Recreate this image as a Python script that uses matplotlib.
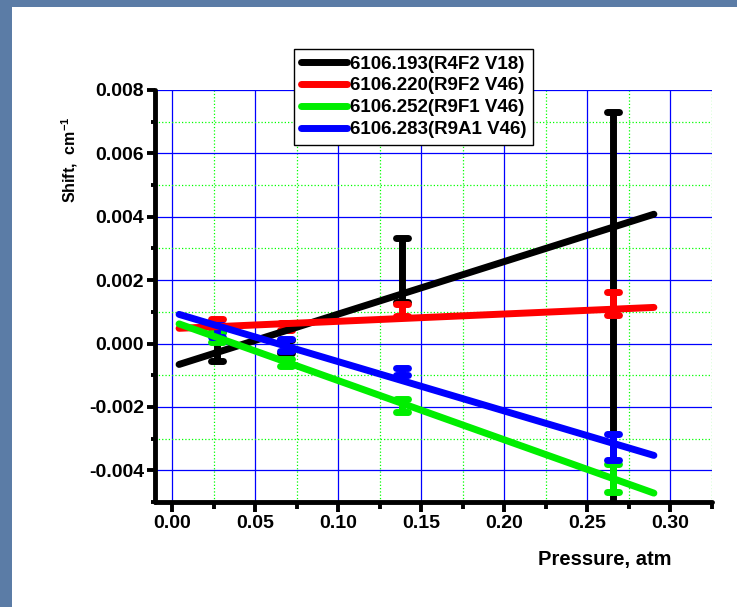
import numpy as np
import matplotlib
matplotlib.use("Agg")
import matplotlib.pyplot as plt
from matplotlib.patches import Rectangle
from matplotlib.markers import MarkerStyle
from matplotlib.ticker import MultipleLocator, FormatStrFormatter

plt.rcParams['font.family'] = ['Liberation Sans', 'DejaVu Sans']
plt.rcParams['font.weight'] = 'bold'
plt.rcParams['mathtext.fontset'] = 'custom'
plt.rcParams['mathtext.rm'] = 'Liberation Sans'
plt.rcParams['mathtext.bf'] = 'Liberation Sans:bold'

# pressures (atm)
pressure = [0.0269, 0.0687, 0.138, 0.2653]

# shifts (cm-1) and errors for each line
labels = ['6106.193(R4F2 V18)', '6106.220(R9F2 V46)',
          '6106.252(R9F1 V46)', '6106.283(R9A1 V46)']
colors = ['#000000', '#ff0000', '#00ee00', '#0000ff']

black_y = [-0.0001, -0.0001, 0.00232, 0.0003]
black_err = [0.00045, 0.0002, 0.00102, 0.0070]
red_y = [0.00066, 0.00054, 0.00107, 0.00126]
red_err = [0.00012, 0.00012, 0.00019, 0.00036]
green_y = [0.0002, -0.0006, -0.00195, -0.00424]
green_err = [0.00015, 0.0001, 0.0002, 0.00045]
blue_y = [0.0004, -0.00005, -0.00088, -0.00326]
blue_err = [0.0002, 0.0002, 0.00012, 0.00041]

# linear fit lines (end points)
fit_x = [0.004, 0.29]
black_fit = [-0.00066, 0.00408]
red_fit = [0.00048, 0.00114]
green_fit = [0.00062, -0.00472]
blue_fit = [0.00092, -0.00353]

series = [
    (black_y, black_err, black_fit),
    (red_y, red_err, red_fit),
    (green_y, green_err, green_fit),
    (blue_y, blue_err, blue_fit),
]

W, H = 737, 607
fig = plt.figure(figsize=(W / 100, H / 100), dpi=100)
fig.patch.set_facecolor('#5b7ca6')
fig.patches.append(Rectangle((12 / W, 0), 1, 1 - 7 / H, transform=fig.transFigure,
                             facecolor='white', edgecolor='none', zorder=-10))

ax = fig.add_axes([155 / W, 1 - 502 / H, (712 - 155) / W, (502 - 90) / H])
ax.set_facecolor('none')

for (y, err, fit), c, lab in zip(series, colors, labels):
    eb = ax.errorbar(pressure, y, yerr=err, fmt='none', ecolor=c,
                     elinewidth=5, capsize=5, capthick=5, zorder=3)
    for cap in eb[1]:
        cap.set_marker(MarkerStyle('_', capstyle='round'))
        cap.set_markersize(8)
        cap.set_markeredgewidth(5)
        cap.set_markeredgecolor(c)
    ax.plot(fit_x, fit, color=c, lw=5, solid_capstyle='round',
            label=lab, zorder=4)

ax.set_xlim(-0.0105, 0.325)
ax.set_ylim(-0.005, 0.008)
ax.xaxis.set_major_locator(MultipleLocator(0.05))
ax.xaxis.set_minor_locator(MultipleLocator(0.025))
ax.yaxis.set_major_locator(MultipleLocator(0.002))
ax.yaxis.set_minor_locator(MultipleLocator(0.001))
ax.xaxis.set_major_formatter(FormatStrFormatter('%.2f'))
ax.yaxis.set_major_formatter(FormatStrFormatter('%.3f'))

ax.set_axisbelow(True)
ax.grid(which='major', color='#0000ff', lw=0.9)
ax.grid(which='minor', color='#00ff00', lw=0.9, ls=':')

for side in ['top', 'right']:
    ax.spines[side].set_visible(False)
for side in ['left', 'bottom']:
    ax.spines[side].set_linewidth(3.5)
    ax.spines[side].set_capstyle('round')

ax.tick_params(which='major', direction='out', length=6, width=2.8,
               labelsize=14, pad=2)
ax.tick_params(which='minor', direction='out', length=3, width=2.8)
ax.tick_params(axis='x', which='major', length=7)
ax.tick_params(axis='x', which='minor', length=5)
for t in ax.get_xticklabels() + ax.get_yticklabels():
    t.set_fontweight('bold')

leg = ax.legend(loc='upper left', bbox_to_anchor=(294 / W, 1 - 49 / H),
                bbox_transform=fig.transFigure, fancybox=False,
                edgecolor='black', framealpha=1, handlelength=2.5,
                handletextpad=0.15, borderpad=0.35, labelspacing=0.25,
                borderaxespad=0, prop={'weight': 'bold', 'size': 13.5})
leg.get_frame().set_linewidth(1)
leg.set_zorder(10)

fig.text(70 / W, 1 - 160 / H, r'$\mathbf{Shift,\ cm^{-1}}$', rotation=90,
         ha='center', va='center', fontsize=11.5)
fig.text(605 / W, 1 - 559 / H, 'Pressure, atm', ha='center', va='center',
         fontsize=14.5, fontweight='bold')

fig.savefig('out.png', dpi=100, facecolor=fig.get_facecolor())
